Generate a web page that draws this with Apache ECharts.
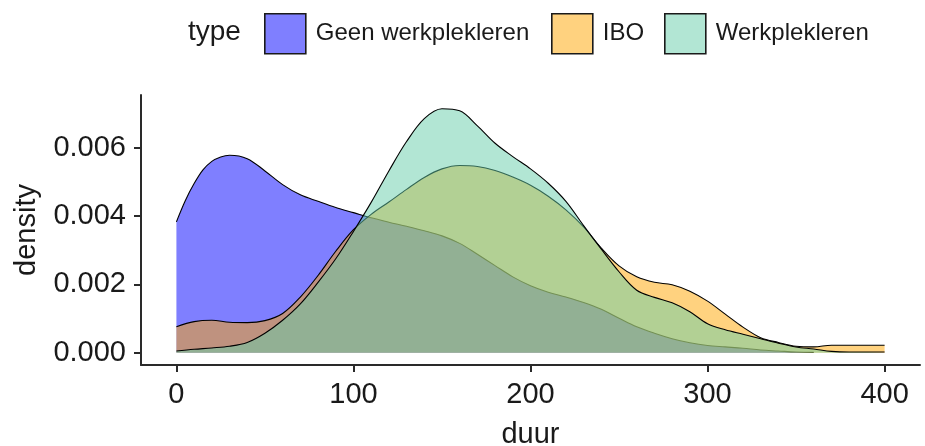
<!DOCTYPE html>
<html>
<head>
<meta charset="utf-8">
<script src="https://cdn.jsdelivr.net/npm/echarts@6/dist/echarts.min.js"></script>
<style>html,body{margin:0;padding:0;background:#fff}#c{width:925px;height:446px}</style>
</head>
<body>
<div id="c"></div>
<script>
// ---- data ----
const seriesNames = ['Geen werkplekleren', 'IBO', 'Werkplekleren'];
const legendTitle = 'type';
const xAxisName = 'duur';
const yAxisName = 'density';
const xTicks = [0, 100, 200, 300, 400];
const yTicks = [0, 0.002, 0.004, 0.006];
const yTickLabels = ['0.000', '0.002', '0.004', '0.006'];

const geenX = [0, 5, 10, 15, 20, 25, 30, 40, 50, 60, 70, 80, 90, 100, 110, 120, 130, 140, 150, 160, 170, 180, 190, 200, 210, 220, 230, 240, 250, 260, 270, 280, 290, 300, 310, 320, 330, 340, 350, 360];
const geenY = [0.00383, 0.00445, 0.00495, 0.00535, 0.00560, 0.00573, 0.00578, 0.00568, 0.00532, 0.00492, 0.00462, 0.00443, 0.00425, 0.00410, 0.00395, 0.00382, 0.00370, 0.00357, 0.00342, 0.00320, 0.00288, 0.00255, 0.00222, 0.00196, 0.00177, 0.00163, 0.00147, 0.00127, 0.00101, 0.00076, 0.00057, 0.00041, 0.00029, 0.00021, 0.00017, 0.00013, 0.00008, 0.00005, 0.00002, 0.00001];

const iboX = [0, 10, 20, 30, 40, 50, 60, 70, 80, 90, 100, 110, 120, 130, 140, 150, 160, 170, 180, 190, 200, 210, 220, 230, 240, 250, 260, 270, 280, 290, 300, 310, 320, 330, 340, 350, 360, 370, 380, 390, 400];
const iboY = [0.00076, 0.00091, 0.00095, 0.00089, 0.00088, 0.00094, 0.00115, 0.00163, 0.00226, 0.00297, 0.00360, 0.00405, 0.00441, 0.00478, 0.00513, 0.00538, 0.00548, 0.00545, 0.00533, 0.00514, 0.00490, 0.00458, 0.00418, 0.00368, 0.00306, 0.00254, 0.00222, 0.00206, 0.00199, 0.00180, 0.00151, 0.00113, 0.00075, 0.00044, 0.00030, 0.00019, 0.00017, 0.00022, 0.00022, 0.00022, 0.00022];

const werkX = [0, 10, 20, 30, 40, 50, 60, 70, 80, 90, 100, 110, 120, 130, 140, 150, 160, 170, 180, 190, 200, 210, 220, 230, 240, 250, 260, 270, 280, 290, 300, 310, 320, 330, 340, 350, 360, 370, 380, 390, 400];
const werkY = [0.00005, 0.00010, 0.00014, 0.00019, 0.00030, 0.00057, 0.00095, 0.00143, 0.00206, 0.00275, 0.00355, 0.00440, 0.00532, 0.00618, 0.00685, 0.00714, 0.00708, 0.00664, 0.00613, 0.00574, 0.00538, 0.00496, 0.00443, 0.00372, 0.00303, 0.00237, 0.00183, 0.00162, 0.00146, 0.00120, 0.00085, 0.00067, 0.00054, 0.00041, 0.00028, 0.00017, 0.00011, 0.00004, 0.00002, 0.00002, 0.00002];

const fills = ['rgba(0,0,255,0.5)', 'rgba(255,165,0,0.5)', 'rgba(102,205,170,0.5)'];

// ---- chart ----
const FONT = '"Liberation Sans", Arial, sans-serif';
const TXT = '#1a1a1a';
const pairs = (xs, ys) => xs.map((x, i) => [x, ys[i]]);
const allData = [pairs(geenX, geenY), pairs(iboX, iboY), pairs(werkX, werkY)];

const chart = echarts.init(document.getElementById('c'), null, {renderer: 'canvas'});

const legendLefts = [259, 546, 659];
const legends = seriesNames.map((n, i) => ({
  data: [{name: n, itemStyle: {color: fills[i], borderColor: '#1a1a1a', borderWidth: 1.6}}],
  left: legendLefts[i], top: 8,
  icon: 'rect', itemWidth: 41, itemHeight: 40,
  selectedMode: false,
  itemStyle: {borderColor: '#1a1a1a', borderWidth: 1.6},
  textStyle: {fontFamily: FONT, fontSize: 24, color: TXT, padding: [7, 0, 0, 5]}
}));

const axisLineStyle = {color: '#2a2a2a', width: 2};

chart.setOption({
  animation: false,
  backgroundColor: '#fff',
  textStyle: {fontFamily: FONT},
  graphic: [{
    type: 'text', x: 188, y: 32,
    style: {text: legendTitle, fontSize: 28, fontFamily: FONT, fill: TXT, verticalAlign: 'middle', align: 'left'}
  }],
  legend: legends,
  grid: {left: 141, right: 5, top: 95, bottom: 81, containLabel: false, outerBoundsMode: 'none'},
  xAxis: {
    type: 'value', min: -20, max: 420,
    name: xAxisName, nameLocation: 'middle', nameGap: 55,
    nameTextStyle: {fontFamily: FONT, fontSize: 29, color: TXT},
    axisLine: {show: true, onZero: false, lineStyle: axisLineStyle},
    axisTick: {show: true, length: 7, customValues: xTicks, lineStyle: axisLineStyle},
    axisLabel: {customValues: xTicks, margin: 15, fontFamily: FONT, fontSize: 29, color: TXT},
    splitLine: {show: false}
  },
  yAxis: {
    type: 'value', min: -0.000359, max: 0.007542,
    name: yAxisName, nameLocation: 'middle', nameGap: 100,
    nameTextStyle: {fontFamily: FONT, fontSize: 29, color: TXT},
    axisLine: {show: true, onZero: false, lineStyle: axisLineStyle},
    axisTick: {show: true, length: 7, customValues: yTicks, lineStyle: axisLineStyle},
    axisLabel: {customValues: yTicks, margin: 15, fontFamily: FONT, fontSize: 29, color: TXT,
      formatter: v => { const k = yTicks.findIndex(t => Math.abs(t - v) < 1e-9); return k >= 0 ? yTickLabels[k] : ''; }},
    splitLine: {show: false}
  },
  series: seriesNames.map((n, i) => ({
    name: n, type: 'line', z: 2 + i,
    data: allData[i],
    smooth: 0.35,
    showSymbol: false, symbol: 'none',
    color: fills[i],
    itemStyle: {color: fills[i]},
    lineStyle: {color: '#000', width: 1.1},
    areaStyle: {color: fills[i], opacity: 1, origin: 0},
    emphasis: {disabled: true}
  }))
});
</script>
</body>
</html>
